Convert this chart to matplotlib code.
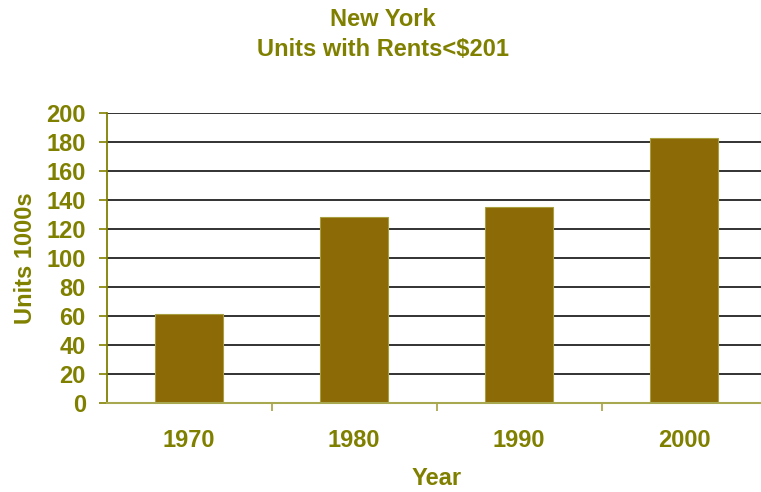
import matplotlib
matplotlib.use("Agg")
import matplotlib.pyplot as plt
import numpy as np

years = ["1970", "1980", "1990", "2000"]
units = [61, 128, 135, 183]
yticks = [0, 20, 40, 60, 80, 100, 120, 140, 160, 180, 200]

olive = "#808000"
bar_color = "#8C6A05"
plt.rcParams['font.family'] = ['Liberation Sans', 'DejaVu Sans']

fig = plt.figure(figsize=(7.61, 4.92), dpi=100)
ax = fig.add_axes([106.7/761, 1 - 402.7/492, 660/761, (402.7-113.3)/492])

x = np.arange(len(years))
ax.bar(x, units, width=0.41, color=bar_color, edgecolor="#A8A040", linewidth=0.8, zorder=3)

ax.set_xlim(-0.5, len(years) - 0.5)
ax.set_ylim(0, 200)
ax.set_yticks(yticks)
ax.set_yticklabels([str(v) for v in yticks])
ax.yaxis.grid(True, color="#222222", linewidth=1.3, zorder=0)
ax.set_axisbelow(True)

ax.set_xticks(x)
ax.set_xticklabels(years)
ax.set_xticks(np.arange(len(years)) + 0.5, minor=True)
ax.tick_params(axis='x', which='major', length=0, pad=19)
ax.tick_params(axis='x', which='minor', length=6, width=1.2, color="#A8A040", direction='out')
ax.tick_params(axis='y', length=6, width=1.2, color=olive, direction='out', pad=9)

for lbl in ax.get_xticklabels() + ax.get_yticklabels():
    lbl.set_fontsize(17)
    lbl.set_fontweight('bold')
    lbl.set_color(olive)

for s in ['top', 'right']:
    ax.spines[s].set_visible(False)
ax.spines['left'].set_color(olive)
ax.spines['left'].set_linewidth(1.3)
ax.spines['bottom'].set_color("#A8A850")
ax.spines['bottom'].set_linewidth(1.5)
ax.spines['bottom'].set_zorder(4)

ax.set_ylabel("Units 1000s", fontsize=17, fontweight='bold', color=olive, labelpad=6.5)
ax.set_xlabel("Year", fontsize=17, fontweight='bold', color=olive, labelpad=11)

fig.text(0.503, 1 - 20/492, "New York", ha='center', va='center', fontsize=17, fontweight='bold', color=olive)
fig.text(0.503, 1 - 50/492, "Units with Rents<$201", ha='center', va='center', fontsize=17, fontweight='bold', color=olive)

fig.savefig("out.png", dpi=100)
